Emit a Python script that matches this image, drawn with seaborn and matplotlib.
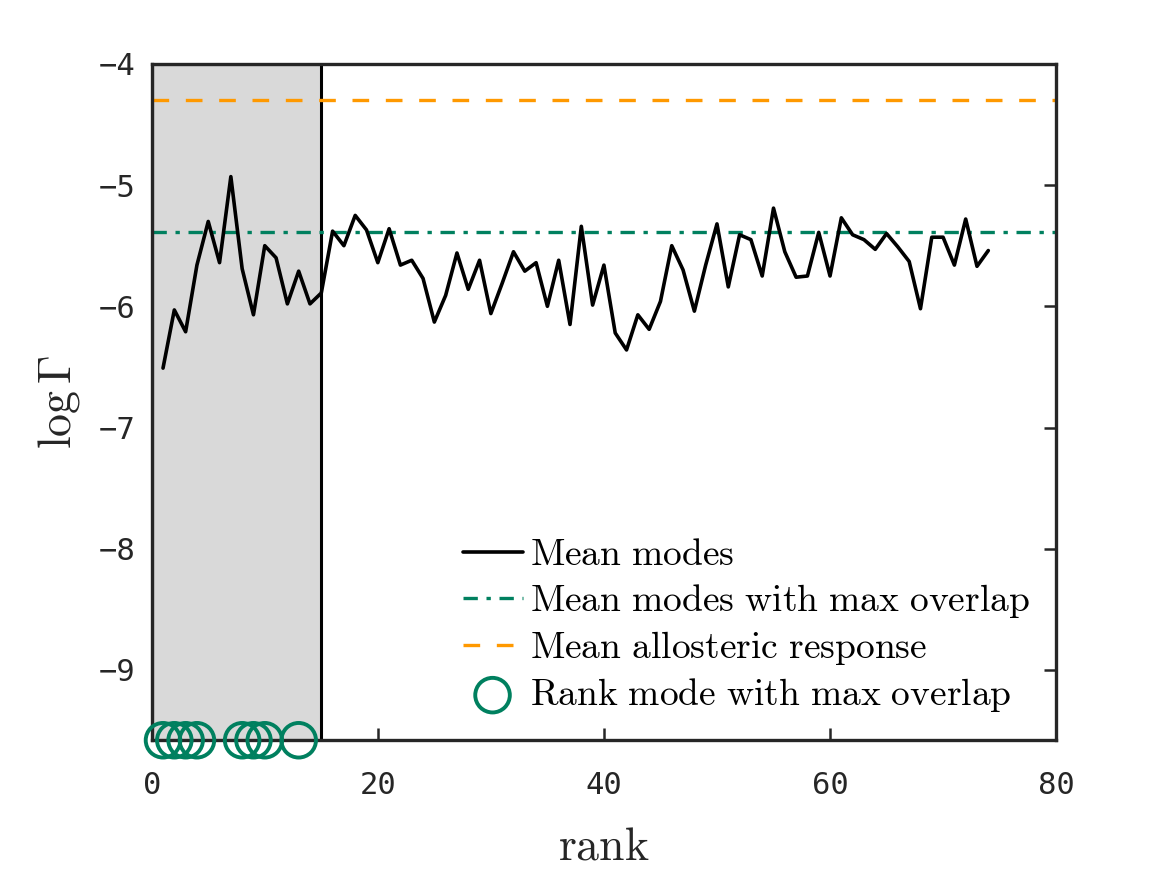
import numpy as np
import pandas as pd
import matplotlib
matplotlib.use('Agg')
import matplotlib.pyplot as plt
import seaborn as sns
from matplotlib.patches import Rectangle

# mean log Gamma of modes, rank 1..74
rank = list(range(1, 75))
log_gamma = [-6.51, -6.03, -6.21, -5.66, -5.30, -5.64, -4.93, -5.69, -6.07, -5.50,
             -5.60, -5.98, -5.71, -5.98, -5.89, -5.38, -5.50, -5.25, -5.37, -5.64,
             -5.36, -5.66, -5.62, -5.77, -6.13, -5.91, -5.56, -5.86, -5.62, -6.06,
             -5.81, -5.55, -5.71, -5.64, -6.00, -5.62, -6.15, -5.34, -5.99, -5.66,
             -6.22, -6.36, -6.07, -6.19, -5.96, -5.50, -5.70, -6.04, -5.66, -5.32,
             -5.84, -5.41, -5.45, -5.75, -5.19, -5.55, -5.76, -5.75, -5.39, -5.75,
             -5.27, -5.41, -5.45, -5.53, -5.40, -5.51, -5.63, -6.02, -5.43, -5.43,
             -5.66, -5.28, -5.67, -5.54]
max_overlap_ranks = [1, 2, 3, 4, 8, 9, 10, 13]
mean_max_overlap = -5.39
mean_allosteric = -4.30
shade_end = 15
y_bottom = -9.58

df = pd.DataFrame({'rank': rank, 'log_gamma': log_gamma})
circ = pd.DataFrame({'rank': max_overlap_ranks, 'y': [y_bottom] * len(max_overlap_ranks)})

sns.set_style('white')
plt.rcParams['mathtext.fontset'] = 'cm'

green = '#00805f'
orange = '#ff9900'
axcol = '#262626'

fig = plt.figure(figsize=(11.67, 8.75), dpi=100)
ax = fig.add_axes([0.130, 0.154, 0.775, 0.773])

ax.add_patch(Rectangle((0, y_bottom), shade_end, -4 - y_bottom, facecolor='#d9d9d9',
                       edgecolor='black', linewidth=2.2, zorder=1))

sns.lineplot(data=df, x='rank', y='log_gamma', color='black', linewidth=2.6,
             ax=ax, label=r'$\mathrm{Mean\ modes}$', zorder=3)
ax.axhline(mean_max_overlap, color=green, linewidth=2.4, linestyle=(0, (4.3, 2.6, 1.3, 2.6)),
           label=r'$\mathrm{Mean\ modes\ with\ max\ overlap}$', zorder=2)
ax.axhline(mean_allosteric, color=orange, linewidth=2.4, linestyle=(0, (5, 5)),
           label=r'$\mathrm{Mean\ allosteric\ response}$', zorder=2)
sns.scatterplot(data=circ, x='rank', y='y', marker='o', s=620, facecolor='none',
                edgecolor=green, linewidth=2.8, ax=ax, clip_on=False, zorder=5,
                label=r'$\mathrm{Rank\ mode\ with\ max\ overlap}$')

ax.set_xlim(0, 80)
ax.set_ylim(y_bottom, -4)
ax.set_xticks([0, 20, 40, 60, 80])
ax.set_yticks([-9, -8, -7, -6, -5, -4])
ax.set_xticklabels(['0', '20', '40', '60', '80'])
ax.set_yticklabels(['\u22129', '\u22128', '\u22127', '\u22126', '\u22125', '\u22124'])
ax.tick_params(axis='x', pad=22)
ax.tick_params(axis='y', pad=12)
ax.tick_params(axis='both', direction='in', length=9, width=1.8, colors=axcol,
               labelsize=22, right=True, left=True, bottom=True, top=False)
for lab in ax.get_xticklabels() + ax.get_yticklabels():
    lab.set_fontfamily('DejaVu Sans Mono')
    lab.set_color(axcol)
for sp in ax.spines.values():
    sp.set_color(axcol)
    sp.set_linewidth(2.4)

ax.set_xlabel(r'$\mathrm{rank}$', fontsize=33, color=axcol, labelpad=18)
ax.set_ylabel(r'$\log\Gamma$', fontsize=33, color=axcol, labelpad=12)

leg = ax.legend(loc='lower right', bbox_to_anchor=(1.0, 0.0), frameon=False, fontsize=27,
                handlelength=1.6, handletextpad=0.2, labelspacing=0.24, markerscale=1.0,
                borderaxespad=0.3)
for t in leg.get_texts():
    t.set_color('black')

fig.savefig('out.png', dpi=100)
